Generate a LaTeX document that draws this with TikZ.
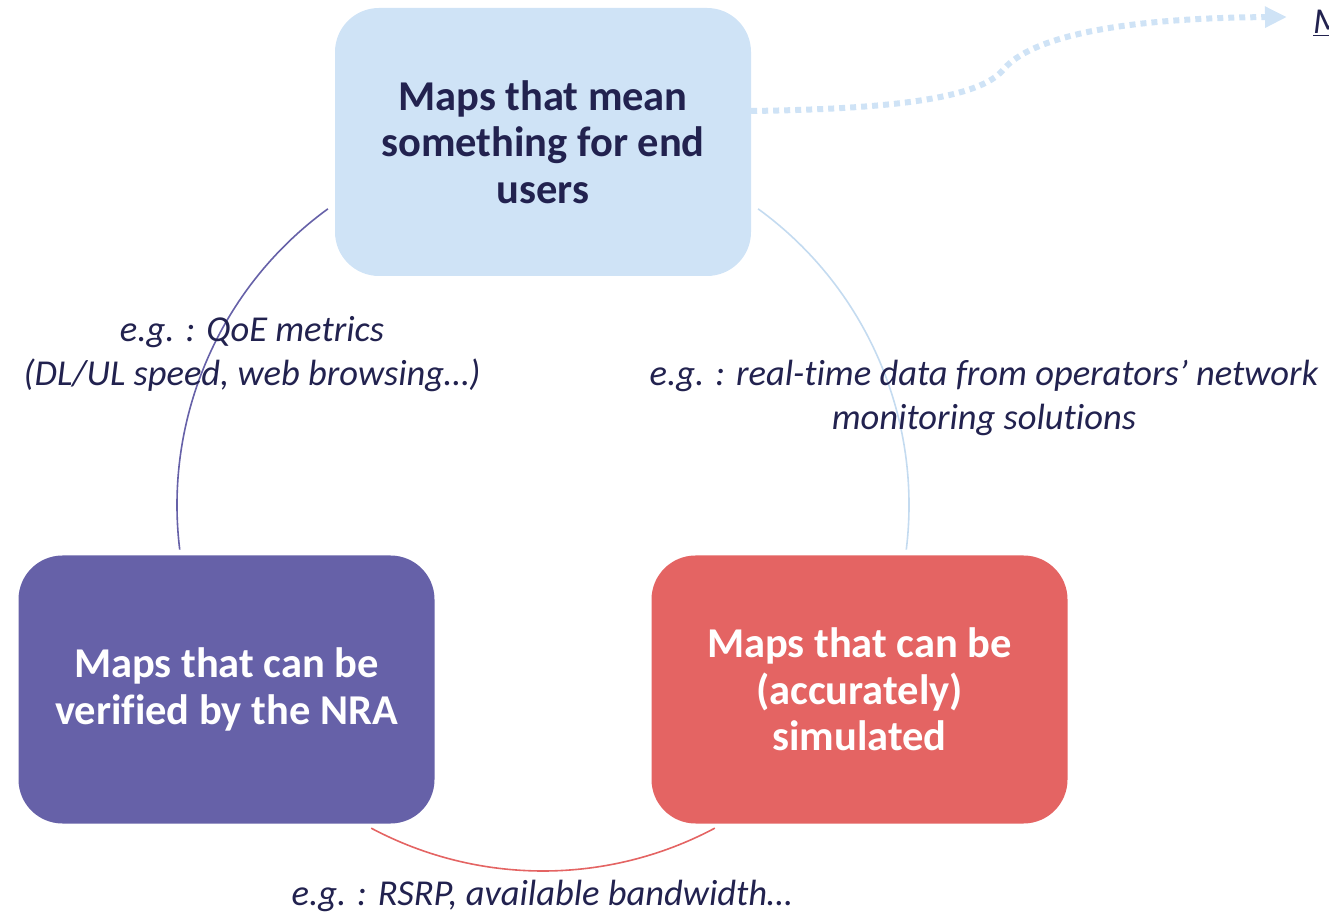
\documentclass[tikz,border=0pt]{standalone}
\usepackage{fontspec}
\setmainfont{Carlito}[Ligatures={NoCommon}]
\usetikzlibrary{arrows.meta,calc}
\definecolor{navy}{HTML}{22224F}
\definecolor{lblue}{HTML}{CFE3F6}
\definecolor{arcblue}{HTML}{C4DBF0}
\definecolor{purp}{HTML}{6661A8}
\definecolor{coral}{HTML}{E46463}
\tikzset{
  mapbox/.style={rounded corners=44pt, minimum width=416pt, minimum height=268pt, align=center, inner sep=0pt,
    font=\fontsize{42.5}{46.5}\selectfont\bfseries},
  lab/.style={align=center, font=\fontsize{36.5}{44.5}\selectfont\itshape, text=navy, inner sep=0pt},
  arcline/.style={line width=1.6pt}
}
\begin{document}
\begin{tikzpicture}[x=1pt,y=1pt]
\useasboundingbox (0,0) rectangle (1329,915);
\node[mapbox, fill=lblue, text=navy] (top) at (543,773) {Maps that mean\\something for end\\users};
\node[mapbox, fill=purp, text=white] (nra) at (226.5,225.5) {Maps that can be\\verified by the NRA};
\node[mapbox, fill=coral, text=white] (sim) at (859.5,225.5) {Maps that can be\\(accurately)\\simulated};
\coordinate (c) at (543,410);
\draw[arcline, purp] ($(c)+(126:366)$) arc[start angle=126, end angle=187, radius=366];
\draw[arcline, arcblue] ($(c)+(54:366)$) arc[start angle=54, end angle=-7, radius=366];
\draw[arcline, coral] ($(c)+(242:366)$) arc[start angle=242, end angle=298, radius=366];
\node[lab] (qoe) at (252,561) {e.g. : QoE metrics\\(DL/UL speed, web browsing…)};
\node[lab] (rt) at (984,517) {e.g. : real-time data from operators’ network\\monitoring solutions};
\node[lab] (rsrp) at (542,19) {e.g. : RSRP, available bandwidth…};
\node[lab, anchor=base west] (cut) at (1313,881) {\underline{M}};
\coordinate (tip) at (1287,898);
\draw[lblue, line width=6pt, dash pattern=on 6pt off 5pt, -{Triangle[length=22pt,width=20pt]}]
  ([yshift=31pt]top.east) .. controls (900,806) and (980,818) .. (1003,845)
  .. controls (1030,878) and (1120,897) .. (tip);
\end{tikzpicture}
\end{document}
